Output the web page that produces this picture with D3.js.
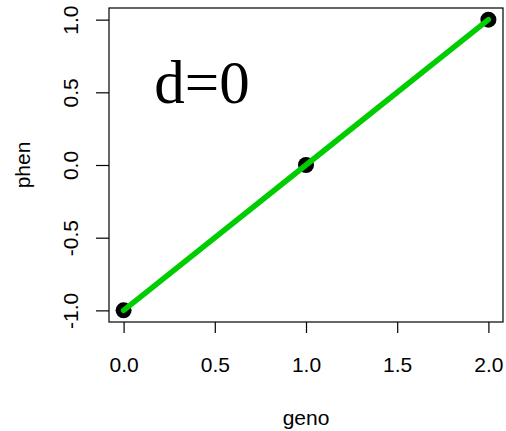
<!DOCTYPE html>
<html lang="en">
  <head>
    <meta charset="UTF-8" />
    <title>d=0</title>
    <script src="https://d3js.org/d3.v7.min.js"></script>
    <style>
      body { margin: 0; background: #fff; }
    </style>
  </head>
  <body>
    <svg width="506" height="431" id="chart"></svg>

    <script>
      // data
      const geno = [0, 1, 2];
      const phen = [-1, 0, 1];
      const xTicks = [0, 0.5, 1, 1.5, 2];
      const yTicks = [-1, -0.5, 0, 0.5, 1];
      const label = { x: 0.43, y: 0.57, text: "d=0" };

      const svg = d3.select("#chart");
      const box = { left: 109, right: 503, top: 8, bottom: 322 };

      // R style 4% padding
      const x = d3.scaleLinear().domain([-0.08, 2.08]).range([box.left, box.right]);
      const y = d3.scaleLinear().domain([-1.08, 1.08]).range([box.bottom, box.top]);

      const font = "Liberation Sans, Arial, sans-serif";
      const fs = 21;

      // box
      svg.append("rect")
        .attr("x", box.left).attr("y", box.top)
        .attr("width", box.right - box.left).attr("height", box.bottom - box.top)
        .attr("fill", "none").attr("stroke", "#000").attr("stroke-width", 1.2);

      // x axis
      const xa = svg.append("g").attr("transform", "translate(0," + box.bottom + ")")
        .call(d3.axisBottom(x).tickValues(xTicks).tickSize(11).tickPadding(24)
          .tickFormat(d3.format(".1f")));
      xa.select(".domain").remove();
      xa.selectAll("line").attr("stroke-width", 1.2);
      xa.selectAll("text").attr("font-family", font).attr("font-size", fs).attr("fill", "#000");

      // y axis, labels rotated like R
      const ya = svg.append("g").attr("transform", "translate(" + box.left + ",0)")
        .call(d3.axisLeft(y).tickValues(yTicks).tickSize(13).tickFormat(d3.format(".1f")));
      ya.select(".domain").remove();
      ya.selectAll("line").attr("stroke-width", 1.2);
      ya.selectAll("text")
        .attr("font-family", font).attr("font-size", fs).attr("fill", "#000")
        .attr("x", 0).attr("dy", null)
        .attr("text-anchor", "middle")
        .attr("transform", "translate(-31,0) rotate(-90)")
        .text(d => d3.format(".1f")(d).replace("−", "-"));

      // axis titles
      svg.append("text")
        .attr("x", (box.left + box.right) / 2).attr("y", 425)
        .attr("text-anchor", "middle")
        .attr("font-family", font).attr("font-size", fs)
        .text("geno");
      svg.append("text")
        .attr("transform", "translate(30," + (box.top + box.bottom) / 2 + ") rotate(-90)")
        .attr("text-anchor", "middle")
        .attr("font-family", font).attr("font-size", fs)
        .text("phen");

      // points
      const pts = geno.map((g, i) => ({ g: g, p: phen[i] }));
      svg.append("g").selectAll("circle").data(pts).join("circle")
        .attr("cx", d => x(d.g)).attr("cy", d => y(d.p))
        .attr("r", 8).attr("fill", "#000");

      // fitted line
      const line = d3.line().x(d => x(d.g)).y(d => y(d.p));
      svg.append("path").datum(pts)
        .attr("d", line)
        .attr("fill", "none")
        .attr("stroke", "#00cd00")
        .attr("stroke-width", 5.5)
        .attr("stroke-linecap", "round");

      // annotation
      svg.append("text")
        .attr("x", x(label.x)).attr("y", y(label.y))
        .attr("text-anchor", "middle")
        .attr("dominant-baseline", "central")
        .attr("font-family", "Liberation Serif, Times New Roman, serif")
        .attr("font-size", 61)
        .text(label.text);
    </script>
  </body>
</html>
